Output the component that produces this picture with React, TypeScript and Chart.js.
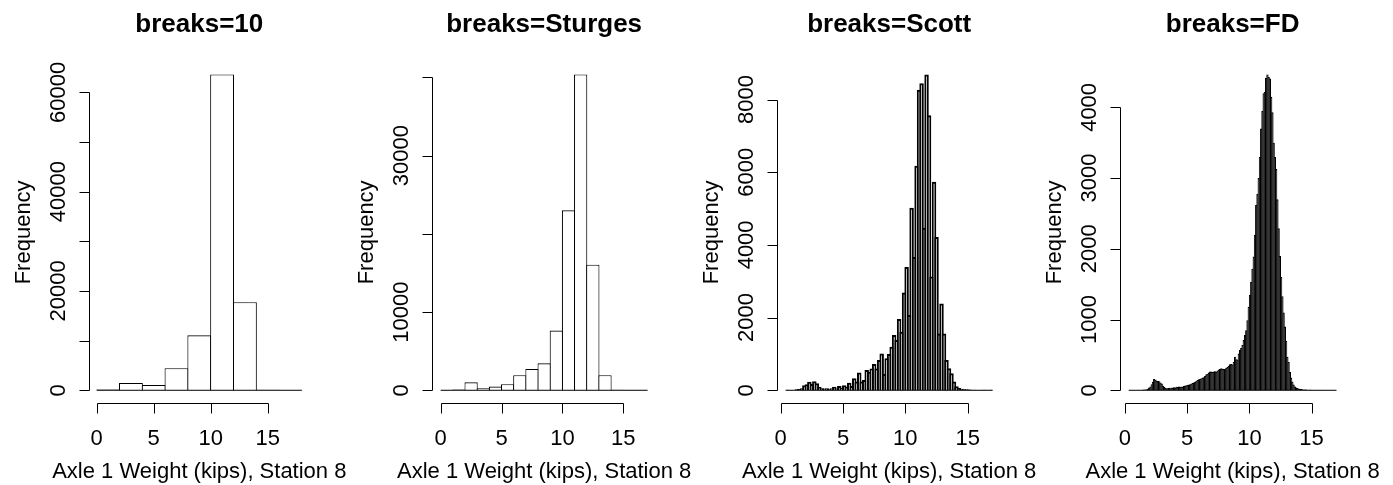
import React, { useEffect, useRef } from 'react';
import { Chart, registerables } from 'chart.js';

Chart.register(...registerables);

const FONT = '"Liberation Sans", Arial, Helvetica, sans-serif';

// ---- shared text ----
const xAxisTitle = 'Axle 1 Weight (kips), Station 8';
const yAxisTitle = 'Frequency';
const xTickValues = [0, 5, 10, 15];
const xTickLabels = ['0', '5', '10', '15'];

// ---- breaks=10 ----
const tenTitle = 'breaks=10';
const tenStart = 0;
const tenWidth = 2;
const tenCounts = [150, 1470, 1070, 4430, 11070, 63600, 17720, 110, 10];
const tenYTicks = [0, 10000, 20000, 30000, 40000, 50000, 60000];
const tenYLabels = ['0', '', '20000', '', '40000', '', '60000'];

// ---- breaks=Sturges ----
const sturgesTitle = 'breaks=Sturges';
const sturgesStart = 0;
const sturgesWidth = 1;
const sturgesCounts = [20, 100, 1020, 255, 470, 770, 1920, 2730, 3450, 7630, 23010, 40390, 16060, 1920, 80, 30, 10];
const sturgesYTicks = [0, 10000, 20000, 30000, 40000];
const sturgesYLabels = ['0', '10000', '', '30000', ''];

// ---- breaks=Scott ----
const scottTitle = 'breaks=Scott';
const scottStart = 0.4;
const scottWidth = 0.2;
const scottCounts = [
  15, 5, 0, 5, 25, 35, 55, 140, 165, 235,
  175, 250, 190, 100, 55, 50, 55, 45, 55, 100,
  50, 120, 70, 135, 100, 210, 120, 330, 240, 490,
  240, 285, 560, 510, 600, 720, 600, 830, 1010, 450,
  880, 1000, 1200, 1520, 1380, 1960, 1610, 2690, 3390, 2070,
  5020, 3670, 6180, 8270, 8450, 4470, 8690, 7570, 3130, 5740,
  4220, 1560, 2390, 1560, 830, 605, 470, 240, 110, 60,
  40, 30, 25, 20, 15, 15, 10, 10, 10, 15,
  10, 10, 15,
];
const scottYTicks = [0, 2000, 4000, 6000, 8000];
const scottYLabels = ['0', '2000', '4000', '6000', '8000'];

// ---- breaks=FD ----
const fdTitle = 'breaks=FD';
const fdStart = 0.3;
const fdWidth = 0.1;
const fdCounts = [
  5, 0, 0, 0, 0, 0, 0, 0, 0, 3,
  5, 8, 10, 12, 15, 22, 40, 55, 85, 120,
  160, 150, 135, 130, 128, 110, 95, 65, 48, 35,
  30, 28, 35, 30, 40, 35, 42, 38, 50, 45,
  52, 50, 55, 50, 62, 66, 70, 75, 80, 85,
  95, 105, 110, 120, 135, 145, 155, 160, 170, 180,
  185, 200, 225, 235, 250, 265, 265, 260, 265, 270,
  265, 280, 295, 300, 310, 305, 300, 296, 320, 330,
  345, 367, 370, 365, 400, 475, 440, 436, 520, 570,
  600, 640, 710, 780, 850, 990, 1180, 1350, 1535, 1720,
  1890, 2200, 2620, 2780, 3000, 3300, 3700, 3950, 4200, 4220,
  4420, 4466, 4430, 4410, 4150, 3930, 3500, 3300, 3128, 2700,
  2290, 1900, 1600, 1330, 1100, 900, 700, 475, 400, 260,
  180, 125, 80, 55, 40, 32, 26, 20, 19, 15,
  12, 10, 10, 8, 8, 6, 6, 5, 5, 5,
  4, 4, 3, 3, 3, 3, 2, 2, 2, 2,
  2, 2, 1, 1, 1, 1, 1,
];
const fdYTicks = [0, 1000, 2000, 3000, 4000];
const fdYLabels = ['0', '1000', '2000', '3000', '4000'];

// ---- layout (page pixels) ----
const PAGE_W = 1393;
const PAGE_H = 485;
const CANVAS_W = 350;
const PLOT_TOP = 61.8;
const PLOT_BOTTOM = 402.9;
const TICK_LEN = 10;

type PanelCfg = {
  title: string;
  start: number;
  width: number;
  counts: number[];
  yTicks: number[];
  yLabels: string[];
  plotLeft: number;
  plotRight: number;
  edge: number;
};

const panels: PanelCfg[] = [
  { title: tenTitle, start: tenStart, width: tenWidth, counts: tenCounts, yTicks: tenYTicks, yLabels: tenYLabels, plotLeft: 88.5, plotRight: 310.1, edge: 1.1 },
  { title: sturgesTitle, start: sturgesStart, width: sturgesWidth, counts: sturgesCounts, yTicks: sturgesYTicks, yLabels: sturgesYLabels, plotLeft: 432.4, plotRight: 655.9, edge: 1.1 },
  { title: scottTitle, start: scottStart, width: scottWidth, counts: scottCounts, yTicks: scottYTicks, yLabels: scottYLabels, plotLeft: 777.4, plotRight: 1000.9, edge: 2.0 },
  { title: fdTitle, start: fdStart, width: fdWidth, counts: fdCounts, yTicks: fdYTicks, yLabels: fdYLabels, plotLeft: 1120.4, plotRight: 1344.8, edge: 1.1 },
];

function makeAxesPlugin(cfg: PanelCfg) {
  return {
    id: 'rAxes',
    afterDraw(chart: any) {
      const { ctx, chartArea: ca, scales } = chart;
      const xs = scales.x;
      const ys = scales.y;
      ctx.save();
      ctx.strokeStyle = '#000';
      ctx.fillStyle = '#000';
      ctx.lineWidth = 1;

      // y axis line + ticks
      const ax = Math.round(ca.left) + 0.5;
      const yb = ys.getPixelForValue(cfg.yTicks[0]);
      const yt = ys.getPixelForValue(cfg.yTicks[cfg.yTicks.length - 1]);
      ctx.beginPath();
      ctx.moveTo(ax, Math.round(yb) + 0.5);
      ctx.lineTo(ax, Math.round(yt) + 0.5);
      cfg.yTicks.forEach((v) => {
        const py = Math.round(ys.getPixelForValue(v)) + 0.5;
        ctx.moveTo(ax, py);
        ctx.lineTo(ax - TICK_LEN, py);
      });
      ctx.stroke();

      ctx.font = `22px ${FONT}`;
      ctx.textAlign = 'center';
      ctx.textBaseline = 'alphabetic';
      cfg.yTicks.forEach((v, i) => {
        const lab = cfg.yLabels[i];
        if (!lab) return;
        const py = ys.getPixelForValue(v);
        ctx.save();
        ctx.translate(ax - 24.5, py);
        ctx.rotate(-Math.PI / 2);
        ctx.fillText(lab, 0, 0);
        ctx.restore();
      });

      // x axis line + ticks
      const ay = Math.round(ca.bottom) + 0.5;
      const xl = xs.getPixelForValue(xTickValues[0]);
      const xr = xs.getPixelForValue(xTickValues[xTickValues.length - 1]);
      ctx.beginPath();
      ctx.moveTo(Math.round(xl) + 0.5, ay);
      ctx.lineTo(Math.round(xr) + 0.5, ay);
      xTickValues.forEach((v) => {
        const px = Math.round(xs.getPixelForValue(v)) + 0.5;
        ctx.moveTo(px, ay);
        ctx.lineTo(px, ay + TICK_LEN);
      });
      ctx.stroke();
      xTickValues.forEach((v, i) => {
        ctx.fillText(xTickLabels[i], xs.getPixelForValue(v), 445);
      });

      const cx = (ca.left + ca.right) / 2;
      const cy = (ca.top + ca.bottom) / 2;
      // x axis title
      ctx.fillText(xAxisTitle, cx, 478);
      // y axis title
      ctx.save();
      ctx.translate(ax - 60, cy);
      ctx.rotate(-Math.PI / 2);
      ctx.fillText(yAxisTitle, 0, 0);
      ctx.restore();
      // main title
      ctx.font = `bold 26px ${FONT}`;
      ctx.fillText(cfg.title, cx, 32);
      ctx.restore();
    },
  };
}

function Panel({ cfg }: { cfg: PanelCfg }) {
  const ref = useRef<HTMLCanvasElement | null>(null);
  const canvasLeft = Math.round(cfg.plotLeft - 88);

  useEffect(() => {
    const canvas = ref.current;
    if (!canvas) return;
    const n = cfg.counts.length;
    const end = cfg.start + n * cfg.width;
    const range = end - cfg.start;
    const xmin = cfg.start - 0.04 * range;
    const xmax = end + 0.04 * range;
    const M = Math.max(...cfg.counts);
    const ymin = -0.04 * M;
    const ymax = 1.04 * M;
    const plotW = cfg.plotRight - cfg.plotLeft;
    const pxPerBin = (cfg.width * plotW) / (xmax - xmin);
    const bins = cfg.counts.map((c, i) => ({ x: cfg.start + (i + 0.5) * cfg.width, y: c }));

    const chart = new Chart(canvas, {
      type: 'bar',
      data: {
        datasets: [
          {
            type: 'line',
            data: [
              { x: cfg.start, y: 0 },
              { x: end, y: 0 },
            ],
            borderColor: '#000',
            borderWidth: 1,
            pointRadius: 0,
            fill: false,
            order: 0,
          } as any,
          {
            type: 'bar',
            data: bins,
            backgroundColor: '#ffffff',
            borderColor: '#000000',
            borderWidth: cfg.edge,
            borderSkipped: 'start',
            inflateAmount: 0,
            barThickness: pxPerBin + cfg.edge,
            grouped: false,
            order: 1,
          } as any,
        ],
      },
      options: {
        responsive: false,
        maintainAspectRatio: false,
        animation: false,
        devicePixelRatio: 1,
        events: [],
        layout: {
          padding: {
            left: cfg.plotLeft - canvasLeft,
            right: CANVAS_W - (cfg.plotRight - canvasLeft),
            top: PLOT_TOP,
            bottom: PAGE_H - PLOT_BOTTOM,
          },
        },
        scales: {
          x: { type: 'linear', min: xmin, max: xmax, offset: false, display: false },
          y: { type: 'linear', min: ymin, max: ymax, display: false },
        },
        plugins: {
          legend: { display: false },
          tooltip: { enabled: false },
          title: { display: false },
        },
      },
      plugins: [makeAxesPlugin(cfg)],
    } as any);
    return () => chart.destroy();
  }, [cfg]);

  return (
    <canvas
      ref={ref}
      width={CANVAS_W}
      height={PAGE_H}
      style={{ position: 'absolute', left: canvasLeft, top: 0, width: CANVAS_W, height: PAGE_H }}
    />
  );
}

export default function App() {
  return (
    <div
      style={{
        position: 'absolute',
        left: 0,
        top: 0,
        width: PAGE_W,
        height: PAGE_H,
        background: '#ffffff',
        overflow: 'hidden',
      }}
    >
      {panels.map((p) => (
        <Panel key={p.title} cfg={p} />
      ))}
    </div>
  );
}
